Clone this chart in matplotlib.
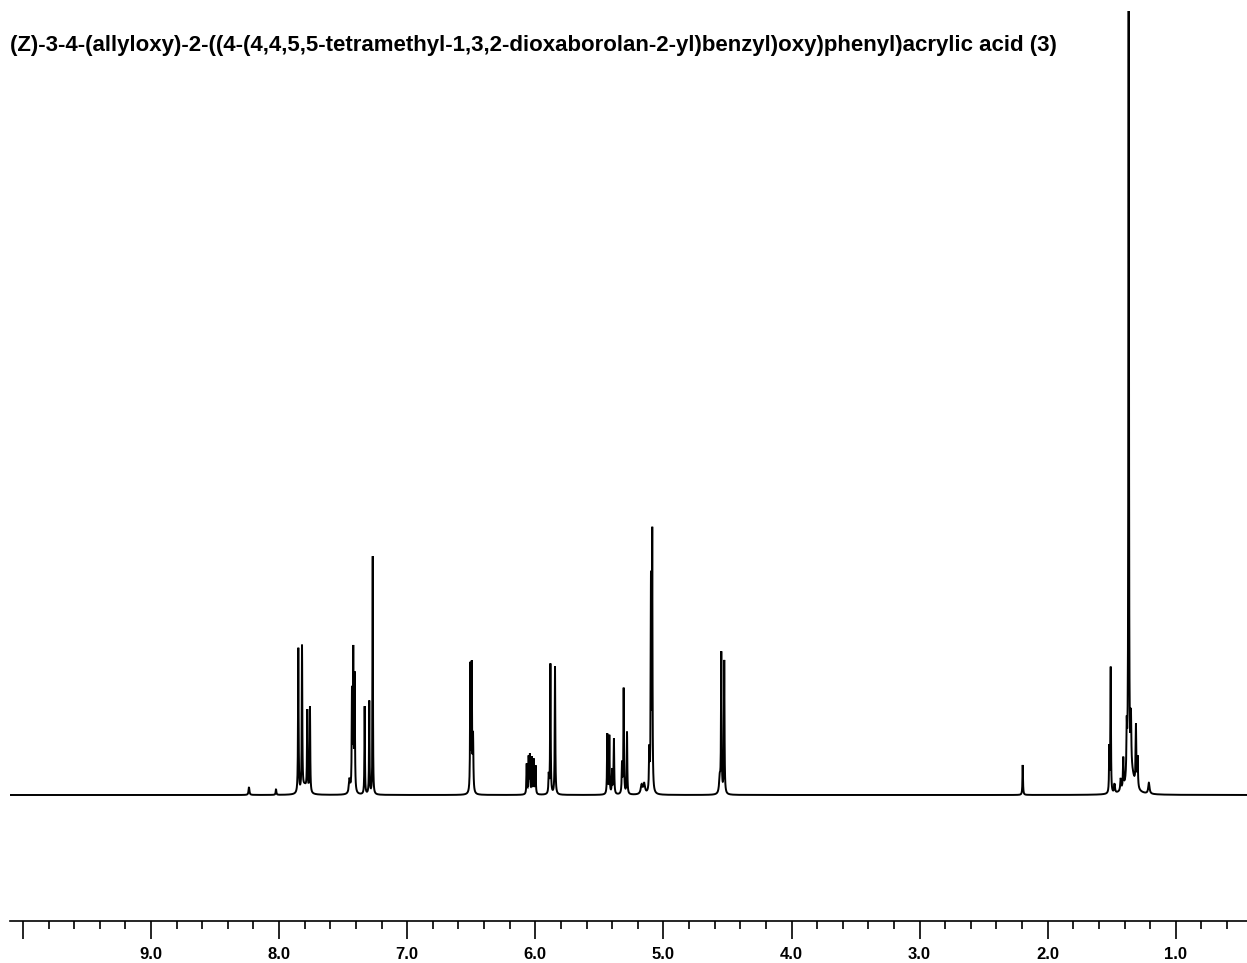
"""
1H NMR spectrum of compound (3), redrawn from peak list.
"""
import numpy as np
import matplotlib
matplotlib.use("Agg")
import matplotlib.pyplot as plt
from matplotlib.ticker import FuncFormatter

TITLE = ("(Z)-3-4-(allyloxy)-2-((4-(4,4,5,5-tetramethyl-1,3,2-dioxaborolan-2-yl)"
         "benzyl)oxy)phenyl)acrylic acid (3)")

# peak list: shift (ppm), apparent height, half width (ppm)
shifts = [8.235, 8.024,
          7.850, 7.821, 7.780, 7.759, 7.800,
          7.450, 7.431, 7.421, 7.410,
          7.332, 7.296, 7.269,
          6.507, 6.496, 6.486,
          6.067, 6.052, 6.042, 6.026, 6.011, 5.998,
          5.895, 5.882, 5.846,
          5.438, 5.422, 5.400, 5.386,
          5.323, 5.310, 5.284,
          5.170, 5.150,
          5.110, 5.097, 5.087,
          4.560, 4.548, 4.525,
          2.195,
          1.519, 1.508, 1.478,
          1.430, 1.410, 1.383, 1.368, 1.350, 1.311, 1.298, 1.210, 1.350]
heights = [8, 6,
           145, 145, 80, 86, 8,
           14, 98, 138, 115,
           88, 93, 238,
           126, 124, 55,
           30, 36, 38, 36, 34, 28,
           18, 130, 128,
           60, 58, 24, 55,
           30, 105, 62,
           9, 10,
           40, 210, 255,
           16, 139, 133,
           30,
           45, 125, 9,
           12, 30, 48, 1150, 50, 60, 30, 11, 22]
widths = [0.004, 0.003,
          0.0025, 0.0025, 0.0025, 0.0025, 0.02,
          0.006, 0.0025, 0.0025, 0.0025,
          0.0022, 0.0022, 0.0018,
          0.0025, 0.0025, 0.003,
          0.0025, 0.0025, 0.0025, 0.0025, 0.0025, 0.0025,
          0.003, 0.0025, 0.0025,
          0.0025, 0.0025, 0.003, 0.0025,
          0.003, 0.0025, 0.0025,
          0.008, 0.008,
          0.003, 0.0025, 0.0022,
          0.006, 0.0025, 0.0025,
          0.0025,
          0.0025, 0.0022, 0.004,
          0.004, 0.003, 0.003, 0.002, 0.003, 0.003, 0.003, 0.006, 0.03]

major_ticks = [1.0, 2.0, 3.0, 4.0, 5.0, 6.0, 7.0, 8.0, 9.0, 10.0]

# frequency axis (ppm), fine enough for sharp lines
ppm = np.linspace(0.40, 10.15, 60000)
intensity = np.zeros_like(ppm)
for x0, h, w in zip(shifts, heights, widths):
    intensity += h / (1.0 + ((ppm - x0) / w) ** 2)

fig = plt.figure(figsize=(12.47, 9.63), dpi=100)
W, H = 1247.0, 963.0
ax = fig.add_axes([10 / W, (H - 921) / H, 1 - 10 / W, (921 - 11) / H])

ax.plot(ppm, intensity, color="black", lw=1.4, solid_joinstyle="miter")

ax.set_xlim(10.1007, 0.4442)
ax.set_ylim(-126, 784)

for side in ("top", "left", "right"):
    ax.spines[side].set_visible(False)
ax.spines["bottom"].set_linewidth(1.2)
ax.set_yticks([])

ax.set_xticks(major_ticks)
ax.set_xticks(np.arange(0.6, 10.01, 0.2), minor=True)
ax.xaxis.set_major_formatter(FuncFormatter(lambda v, p: "" if v > 9.5 else f"{v:.1f}"))
ax.tick_params(axis="x", which="major", direction="out", length=13, width=1.2,
               pad=6, labelsize=12)
ax.tick_params(axis="x", which="minor", direction="out", length=6, width=1.2)
for lab in ax.get_xticklabels():
    lab.set_fontfamily("Liberation Sans")
    lab.set_fontweight("bold")

fig.text(10 / W, 1 - 45 / H, TITLE, ha="left", va="center", fontsize=16,
         fontweight="bold", family="Liberation Sans")

fig.savefig("out.png", dpi=100)
